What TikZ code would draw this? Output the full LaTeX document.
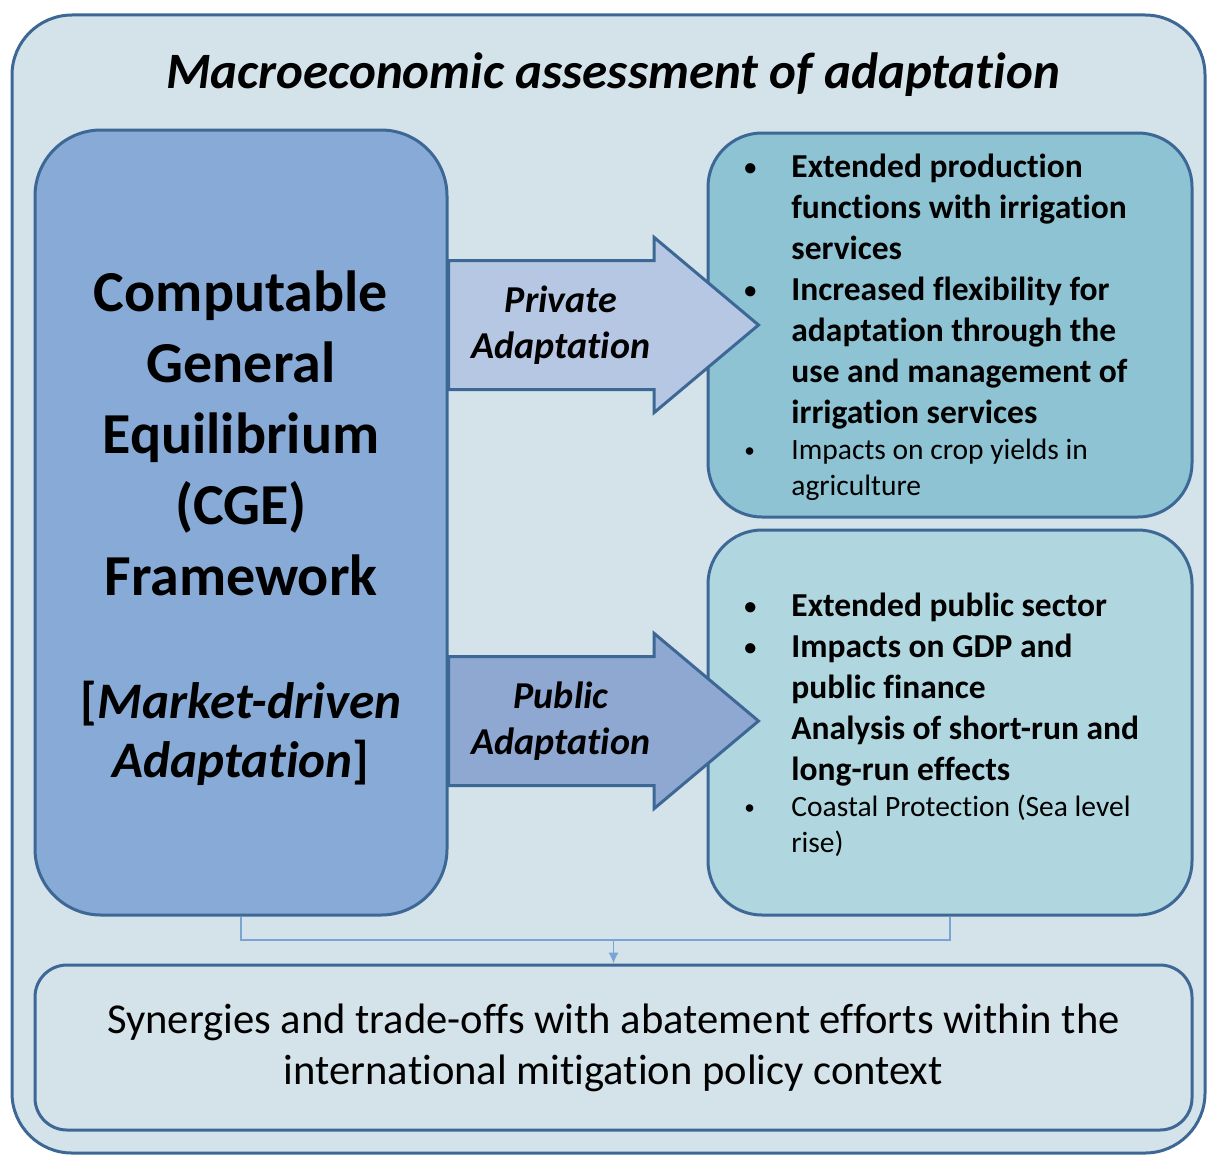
\documentclass[tikz,border=0pt]{standalone}
\usepackage{fontspec}
\setmainfont{Carlito}[Ligatures=NoCommon]
\usetikzlibrary{shapes,arrows,arrows.meta,positioning}

\definecolor{bgblue}{HTML}{D4E2E9}
\definecolor{edgeblue}{HTML}{3D6896}
\definecolor{cgeblue}{HTML}{88AAD7}
\definecolor{privblue}{HTML}{B5C7E2}
\definecolor{pubblue}{HTML}{8FA8D2}
\definecolor{tealbox}{HTML}{8EC3D3}
\definecolor{paleteal}{HTML}{B0D7DF}
\definecolor{linkblue}{HTML}{7AA4D4}

% one bullet point with a hanging indent
\newcommand{\bitem}{\par\noindent\hangindent=23pt\hangafter=1%
	\makebox[23pt][l]{\kern-0.5pt\raisebox{1.2pt}{\scalebox{0.72}{\textbullet}}}}

\tikzstyle{link->}=[draw=linkblue, line width=0.75pt, -{Latex[length=5.5pt,width=5pt]}]
\tikzset{
	frame/.style = {draw=edgeblue, line width=1.5pt, fill=bgblue, rounded corners=30pt, inner sep=0pt},
	block/.style = {draw=edgeblue, line width=1.5pt, rectangle, inner sep=0pt},
	adapt/.style = {draw=edgeblue, line width=1.5pt, single arrow, single arrow head extend=11.5pt,
		single arrow tip angle=80, minimum height=155pt, minimum width=86pt, inner sep=0pt,
		text height=31.5pt, text depth=31.5pt},
	lbl/.style = {font=\fontsize{19}{23}\selectfont\bfseries\itshape, align=center},
	bullets/.style = {text width=215pt, align=flush left, inner sep=0pt, anchor=west,
		font=\fontsize{16.75}{20.5}\selectfont\bfseries},
	link/.style = {draw=linkblue, line width=0.75pt}
}

\begin{document}
\begin{tikzpicture}[x=0.5pt, y=-0.5pt, >=latex']
    \useasboundingbox (0,0) rectangle (1208,1156);
    % outer frame with its title
    \node [frame, minimum width=596.5pt, minimum height=569pt] (frame) at (608.5,584) {};
    \node [font=\fontsize{25.5}{30}\selectfont\bfseries\itshape] (title) at (613,75)
        {Macroeconomic assessment of adaptation};

    % the CGE block on the left
    \node [block, fill=cgeblue, rounded corners=33pt, minimum width=206pt, minimum height=392.5pt] (cge) at (241,522.5) {};
    \node [font=\fontsize{29}{35.5}\selectfont\bfseries, align=center] (cgename) at (241,433)
        {Computable\\General\\Equilibrium\\(CGE)\\Framework};
    \node [font=\fontsize{25.6}{29.5}\selectfont\bfseries, align=center] (market) at (241,733)
        {[\textit{Market-driven}\\\textit{Adaptation}]};

    % what each kind of adaptation adds
    \node [block, fill=tealbox, rounded corners=27pt, minimum width=242pt, minimum height=192pt] (privbox) at (950,325) {};
    \node [block, fill=paleteal, rounded corners=27pt, minimum width=242pt, minimum height=192.5pt] (pubbox) at (950,722.5) {};
    \node [bullets] (privlist) at (745,319) {%
        \bitem Extended production\newline functions with irrigation\newline services
        \bitem Increased flexibility for\newline adaptation through the\newline use and management of\newline irrigation services\par
        {\mdseries\fontsize{14.75}{18}\selectfont\bitem Impacts on crop yields in\newline agriculture\par}};
    \node [bullets] (publist) at (745,716) {%
        \bitem Extended public sector
        \bitem Impacts on GDP and\newline public finance
        \par\noindent\hangindent=23pt\hangafter=0 Analysis of short-run and\newline long-run effects\par
        {\mdseries\fontsize{14.75}{18}\selectfont\bitem Coastal Protection (Sea level\newline rise)\par}};

    % the two channels as block arrows
    \node [adapt, fill=privblue, anchor=tail] (priv) at (447,325) {};
    \node [lbl] (privtxt) at (561,325) {Private\\Adaptation};
    \node [adapt, fill=pubblue, anchor=tail] (pub) at (447,721) {};
    \node [lbl] (pubtxt) at (561,721) {Public\\Adaptation};

    % joint outcome at the bottom
    \node [block, fill=bgblue, rounded corners=16pt, minimum width=578.5pt, minimum height=82.5pt,
        font=\fontsize{21.3}{25.5}\selectfont, align=center] (result) at (613.5,1047.5)
        {Synergies and trade-offs with abatement efforts within the\\international mitigation policy context};

    \coordinate (join) at (613.5,940);
    \draw [link] (cge.south) |- (join) -| (pubbox.south);
    \draw [link->] (join) -- (result.north);
\end{tikzpicture}
\end{document}
